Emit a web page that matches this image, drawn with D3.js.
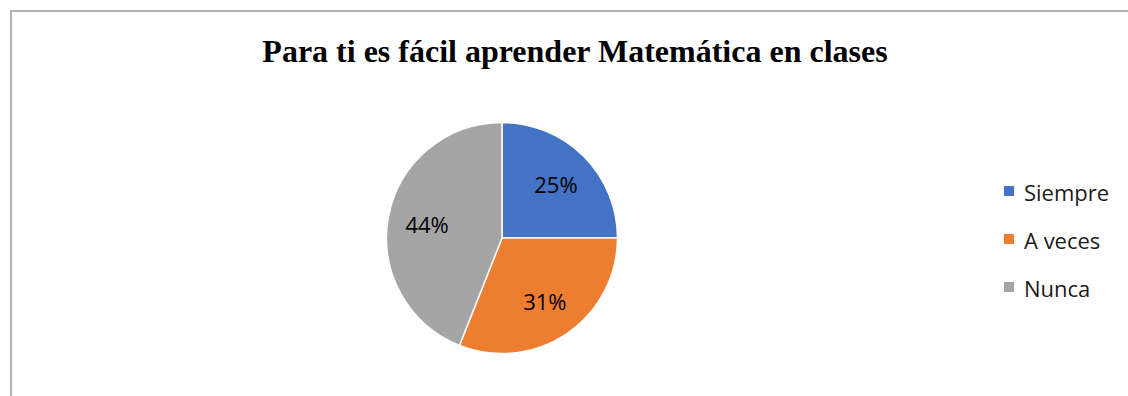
<!DOCTYPE html>
<html lang="es">
<head>
<meta charset="UTF-8">
<title>Para ti es fácil aprender Matemática en clases</title>
<script src="https://d3js.org/d3.v7.min.js"></script>
<style>
    body { margin: 0; padding: 0; background: #fff; }
    svg { display: block; }
</style>
</head>
<body>
<svg id="chart" width="1128" height="396"></svg>
<script>
// data
const categories = ["Siempre", "A veces", "Nunca"];
const values = [25, 31, 44];
const colors = ["#4472c4", "#ed7d31", "#a5a5a5"];
const title = "Para ti es fácil aprender Matemática en clases";

const svg = d3.select("#chart");

// chart frame (only top and left edges visible in the crop)
svg.append("rect")
    .attr("x", 11).attr("y", 11)
    .attr("width", 1130).attr("height", 400)
    .attr("fill", "#fff")
    .attr("stroke", "#9a9a9a")
    .attr("stroke-width", 1.5);

svg.append("text")
    .attr("x", 575).attr("y", 62)
    .attr("text-anchor", "middle")
    .style("font-family", "'Liberation Serif', 'Times New Roman', serif")
    .style("font-weight", "bold")
    .style("font-size", "32px")
    .text(title);

const cx = 502, cy = 238, r = 115.5;

const pie = d3.pie().sort(null).value(d => d.v);
const arcs = pie(categories.map((c, i) => ({ c, v: values[i], col: colors[i] })));
const arc = d3.arc().innerRadius(0).outerRadius(r);
const labelArc = d3.arc().innerRadius(r * 0.66).outerRadius(r * 0.66);

const g = svg.append("g").attr("transform", `translate(${cx},${cy})`);

g.selectAll("path")
    .data(arcs)
    .enter()
    .append("path")
    .attr("d", arc)
    .attr("fill", d => d.data.col)
    .attr("stroke", "#fff")
    .attr("stroke-width", 1.5);

g.selectAll(".lbl")
    .data(arcs)
    .enter()
    .append("text")
    .attr("class", "lbl")
    .attr("transform", d => `translate(${labelArc.centroid(d)})`)
    .attr("text-anchor", "middle")
    .attr("dominant-baseline", "central")
    .style("font-family", "'Open Sans', sans-serif")
    .style("font-size", "22px")
    .style("fill", "#000")
    .text(d => d.data.v + "%");

// legend
const legend = svg.append("g").attr("transform", "translate(1004,0)");
const rowY = d3.scalePoint().domain(categories).range([191, 287]);

const items = legend.selectAll(".item")
    .data(categories)
    .enter()
    .append("g")
    .attr("transform", d => `translate(0,${rowY(d)})`);

items.append("rect")
    .attr("x", 0).attr("y", -5)
    .attr("width", 10).attr("height", 10)
    .attr("fill", (d, i) => colors[i]);

items.append("text")
    .attr("x", 20).attr("y", 1)
    .attr("dominant-baseline", "central")
    .style("font-family", "'Open Sans', sans-serif")
    .style("font-size", "22px")
    .style("fill", "#1a1a1a")
    .text(d => d);
</script>
</body>
</html>
